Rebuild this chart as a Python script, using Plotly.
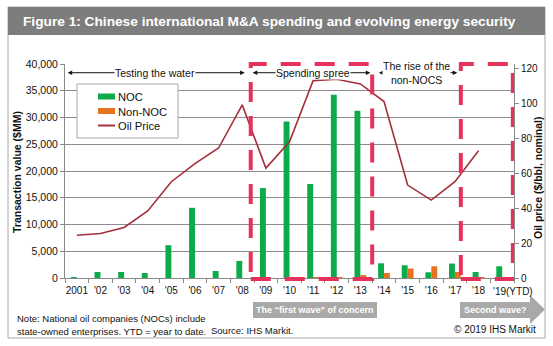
import plotly.graph_objects as go

# ---- data -------------------------------------------------------------
years = ["2001", "'02", "'03", "'04", "'05", "'06", "'07", "'08", "'09", "'10",
         "'11", "'12", "'13", "'14", "'15", "'16", "'17", "'18", "'19(YTD)"]
noc = [100, 1120, 1120, 940, 6130, 13120, 1310, 3190, 16810, 29230,
       17560, 34240, 31240, 2750, 2380, 1070, 2700, 1120, 2190]
non_noc = [0, 0, 0, 0, 0, 0, 0, 0, 0, 0,
           60, 150, 560, 940, 1760, 2190, 1120, 100, 0]
oil_price = [24.5, 25.5, 28.9, 38.4, 55.1, 65.5, 74.4, 99.1, 62.9, 78.0,
             113.0, 113.8, 111.1, 101.0, 53.2, 44.6, 55.1, 72.9, None]

# phases drawn as double-headed arrows above the bars (category-index units)
phase_labels = ["Testing the water", "Spending spree", "The rise of the<br>non-NOCS"]
phase_start = [-0.45, 7.38, 12.72]
phase_end = [7.1, 12.42, 16.1]
phase_label_x = [3.31, 9.99, 14.36]

# highlighted periods (dashed boxes), category-index units
box_start = [7.36, 16.25]
box_end = [12.5, 18.45]

# the last category label hangs to the right of its bar, so it is written separately
tick_text = years[:-1] + [""]

# ---- figure geometry ---------------------------------------------------
W, H = 553, 346
L, R, T, B = 65, 39, 64, 68
PW, PH = W - L - R, H - T - B


def px(x):
    return (x - L) / PW


def py(y):
    return (H - B - y) / PH


FONT = "Liberation Sans, Arial, sans-serif"
GREEN = "#0BAA4B"
ORANGE = "#E8731E"
OIL = "#A3303A"
PINK = "#E6325A"
GRID = "#8c8c8c"
AXIS = "#8a8a8a"

fig = go.Figure()
fig.add_trace(go.Bar(x=years, y=noc, name="NOC", marker=dict(color=GREEN, line_width=0)))
fig.add_trace(go.Bar(x=years, y=non_noc, name="Non-NOC", marker=dict(color=ORANGE, line_width=0)))
fig.add_trace(go.Scatter(x=years, y=oil_price, name="Oil Price", yaxis="y2",
                         mode="lines", line=dict(color=OIL, width=1.6)))

shapes = []
annotations = []

# panel and title bar
shapes.append(dict(type="rect", xref="paper", yref="paper", x0=px(8), x1=px(545),
                   y0=py(338), y1=py(7), line=dict(color="#a8a8a8", width=1),
                   fillcolor="rgba(0,0,0,0)", layer="below"))
shapes.append(dict(type="rect", xref="paper", yref="paper", x0=px(8), x1=px(545),
                   y0=py(35), y1=py(7), line=dict(width=0),
                   fillcolor="#7d7d7d", layer="below"))
annotations.append(dict(xref="paper", yref="paper", x=px(21), y=py(21),
                        xanchor="left", yanchor="middle", showarrow=False,
                        text="<b>Figure 1: Chinese international M&A spending and evolving energy security</b>",
                        font=dict(family=FONT, size=13.7, color="white")))

# dashed period boxes
for x0, x1 in zip(box_start, box_end):
    shapes.append(dict(type="rect", xref="x", yref="paper", x0=x0, x1=x1,
                       y0=py(279), y1=py(64), fillcolor="rgba(0,0,0,0)",
                       line=dict(color=PINK, width=4, dash="20px,14px"), layer="above"))

# phase arrows and labels
ARROW_Y = 38370
for lab, s, e, cx in zip(phase_labels, phase_start, phase_end, phase_label_x):
    annotations.append(dict(x=e, y=ARROW_Y, ax=s, ay=ARROW_Y, xref="x", yref="y",
                            axref="x", ayref="y", text="", showarrow=True,
                            arrowhead=2, arrowside="end+start", arrowsize=0.9,
                            arrowwidth=1, arrowcolor="#111"))
    annotations.append(dict(x=cx, y=ARROW_Y, xref="x", yref="y", text=lab,
                            showarrow=False, bgcolor="white", borderpad=0,
                            font=dict(family=FONT, size=10.5, color="#111")))

# custom legend: box, swatches and one multi-line label block
LEG_ROWS = [96.5, 111, 125.5]
shapes.append(dict(type="rect", xref="paper", yref="paper", x0=px(77), x1=px(178),
                   y0=py(138), y1=py(84), line=dict(color="#a8a8a8", width=1),
                   fillcolor="white", layer="above"))
legend_items = [("NOC", GREEN, "bar"), ("Non-NOC", ORANGE, "bar"), ("Oil Price", OIL, "line")]
for (name, col, kind), yy in zip(legend_items, LEG_ROWS):
    if kind == "bar":
        shapes.append(dict(type="rect", xref="paper", yref="paper", x0=px(98), x1=px(115),
                           y0=py(yy + 3), y1=py(yy - 3), line=dict(width=0),
                           fillcolor=col, layer="above"))
    else:
        shapes.append(dict(type="line", xref="paper", yref="paper", x0=px(98), x1=px(115),
                           y0=py(yy), y1=py(yy), line=dict(color=col, width=2),
                           layer="above"))
annotations.append(dict(xref="paper", yref="paper", x=px(115.5), y=py(111),
                        xanchor="left", yanchor="middle", align="left", showarrow=False,
                        text="<br>".join(n for n, _, _ in legend_items),
                        font=dict(family=FONT, size=11.2, color="#111")))

# last category label, starting just left of its bar group
annotations.append(dict(xref="x", yref="paper", x=len(years) - 1, y=py(291),
                        xanchor="left", yanchor="middle", xshift=-11, showarrow=False,
                        text=years[-1], font=dict(family=FONT, size=10, color="#111")))

# axis titles
annotations.append(dict(xref="paper", yref="paper", x=px(17), y=py(172), textangle=-90,
                        xanchor="center", yanchor="middle",
                        showarrow=False, text="<b>Transaction value ($MM)</b>",
                        font=dict(family=FONT, size=10.5, color="#111")))
annotations.append(dict(xref="paper", yref="paper", x=px(538), y=py(178), textangle=-90,
                        xanchor="center", yanchor="middle",
                        showarrow=False, text="<b>Oil price ($/bbl, nominal)</b>",
                        font=dict(family=FONT, size=10.5, color="#111")))

# grey wave arrows under the axis
shapes.append(dict(type="rect", xref="paper", yref="paper", x0=px(253), x1=px(377),
                   y0=py(318), y1=py(302), line=dict(width=0), fillcolor="#a9a9a9",
                   layer="above"))
wave2 = [(460, 302), (530, 302), (530, 295), (545, 309.5), (530, 324), (530, 318), (460, 318)]
path = "M " + " L ".join(f"{px(a):.5f},{py(b):.5f}" for a, b in wave2) + " Z"
shapes.append(dict(type="path", xref="paper", yref="paper", path=path,
                   line=dict(width=0), fillcolor="#a9a9a9", layer="above"))
annotations.append(dict(xref="paper", yref="paper", x=px(315), y=py(310), showarrow=False,
                        xanchor="center", yanchor="middle",
                        text="<b>The \u201cfirst wave\u201d of concern</b>",
                        font=dict(family=FONT, size=9, color="white")))
annotations.append(dict(xref="paper", yref="paper", x=px(495), y=py(310), showarrow=False,
                        xanchor="center", yanchor="middle",
                        text="<b>Second wave?</b>",
                        font=dict(family=FONT, size=9, color="white")))

# footnotes
NOTE_SIZE = 9.5
annotations.append(dict(xref="paper", yref="paper", x=px(15), y=py(318), xanchor="left",
                        yanchor="middle", showarrow=False,
                        text="Note: National oil companies (NOCs) include",
                        font=dict(family=FONT, size=NOTE_SIZE, color="#111")))
annotations.append(dict(xref="paper", yref="paper", x=px(15), y=py(331), xanchor="left",
                        yanchor="middle", showarrow=False,
                        text="state-owned enterprises. YTD = year to date.",
                        font=dict(family=FONT, size=NOTE_SIZE, color="#111")))
annotations.append(dict(xref="paper", yref="paper", x=px(209), y=py(330), xanchor="left",
                        yanchor="middle", showarrow=False, text="Source: IHS Markit.",
                        font=dict(family=FONT, size=NOTE_SIZE, color="#111")))
annotations.append(dict(xref="paper", yref="paper", x=px(538), y=py(329), xanchor="right",
                        yanchor="middle", showarrow=False, text="\u00a9 2019 IHS Markit",
                        font=dict(family=FONT, size=10, color="#111")))

fig.update_layout(
    width=W, height=H,
    margin=dict(l=L, r=R, t=T, b=B, pad=0),
    paper_bgcolor="white", plot_bgcolor="white",
    barmode="group", bargap=0.5, bargroupgap=0,
    showlegend=False,
    font=dict(family=FONT, size=10, color="#111"),
    xaxis=dict(type="category", range=[-0.5, len(years) - 0.5], autorange=False,
               tickson="boundaries", ticks="outside", ticklen=4,
               tickcolor=AXIS, showline=True, linecolor=AXIS, linewidth=1,
               tickmode="array", tickvals=years, ticktext=tick_text,
               ticklabelstandoff=3,
               showgrid=False, tickangle=0, tickfont=dict(size=10, color="#111")),
    yaxis=dict(range=[0, 40000], tickvals=list(range(0, 40001, 5000)), tickformat=",",
               showgrid=True, gridcolor=GRID, gridwidth=1, zeroline=False,
               showline=True, linecolor=AXIS, ticks="outside", ticklen=4, tickcolor=AXIS,
               tickfont=dict(size=10.5, color="#111")),
    yaxis2=dict(range=[0, 122.5], tickvals=list(range(0, 121, 20)), overlaying="y",
                side="right", showgrid=False, zeroline=False, showline=True,
                linecolor=AXIS, ticks="outside", ticklen=4, tickcolor=AXIS,
                tickfont=dict(size=10, color="#111")),
    shapes=shapes, annotations=annotations,
)

fig.write_html("out.html")
